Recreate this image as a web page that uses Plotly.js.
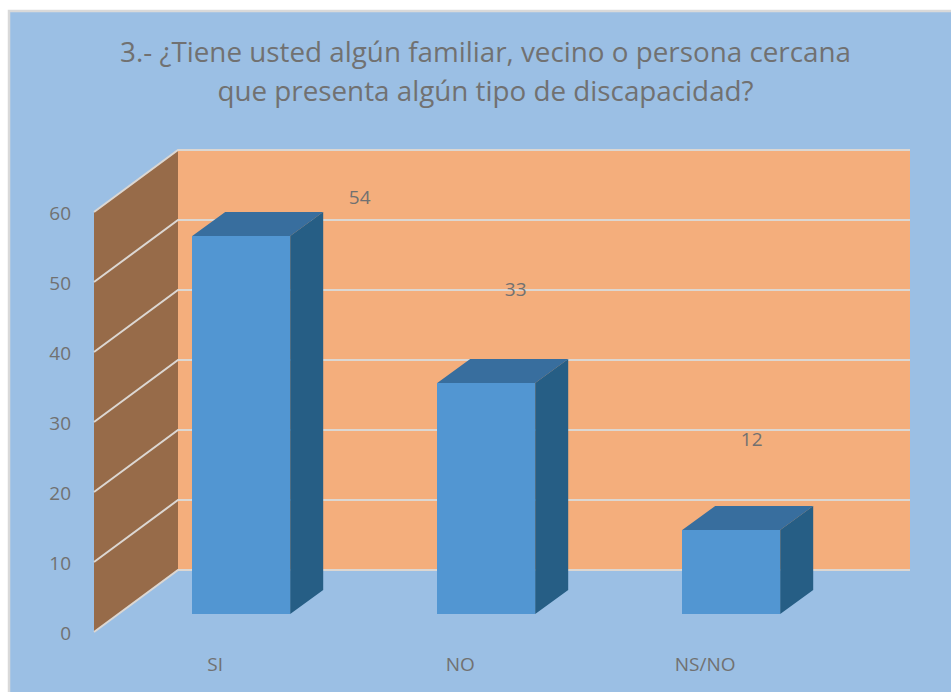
<!DOCTYPE html>
<html>
<head>
<meta charset="utf-8">
<script src="https://cdn.plot.ly/plotly-3.0.1.min.js"></script>
<style>html,body{margin:0;padding:0;background:#fff;overflow:hidden}</style>
</head>
<body>
<div id="chart" style="width:951px;height:692px"></div>
<script>
// ---- data ----
const categories = ['SI', 'NO', 'NS/NO'];
const values = [54, 33, 12];
const yTicks = [0, 10, 20, 30, 40, 50, 60];
const titleLines = ['3.- ¿Tiene usted algún familiar, vecino o persona cercana', 'que presenta algún tipo de discapacidad?'];

// ---- geometry of the fake 3-D box, in pixels ----
const W = 951, H = 692;
const pxPerCat = 245, pxPerUnit = 7;
const firstBarPx = 241.2, zeroPx = 632;
const wallLeftPx = 94, wallRightPx = 910;
const wallDxPx = 84, wallDyPx = 62;
const barWidthPx = 98, barDxPx = 33, barDyPx = 24, barLiftPx = 18;
const tickOffsetPx = -26;
const labelOffsetPx = [[118.5, 37], [29.5, 92], [20.5, 89]];

const cx = p => (p - firstBarPx) / pxPerCat;          // pixel -> category units
const dxC = p => p / pxPerCat;
const dyV = p => p / pxPerUnit;
const xRange = [cx(0), cx(W)];
const yRange = [(zeroPx - H) / pxPerUnit, zeroPx / pxPerUnit];

const colors = {
  panel: '#9BBFE4', border: '#D9D9D9', wall: '#F4AE7C', side: '#976B49', grid: '#DCD7D2',
  front: '#5296D2', top: '#386E9E', dark: '#265E85', text: '#717171'
};

// ---- walls and grid, layered beneath the traces ----
const xL = cx(wallLeftPx), xB = xL + dxC(wallDxPx), xR = cx(wallRightPx), dY = dyV(wallDyPx);
const yMax = yTicks[yTicks.length - 1];
const poly = pts => 'M' + pts.map(p => p[0] + ',' + p[1]).join('L') + 'Z';
const line = pts => 'M' + pts.map(p => p[0] + ',' + p[1]).join('L');
const shapes = [
  {type: 'rect', xref: 'paper', yref: 'paper', x0: 9 / W, x1: 1.05, y0: -0.05, y1: 1 - 11 / H, layer: 'below',
   fillcolor: colors.panel, line: {color: colors.border, width: 2.5}},
  {type: 'path', xref: 'x', yref: 'y', layer: 'below', path: poly([[xB, dY], [xB, yMax + dY], [xR, yMax + dY], [xR, dY]]),
   fillcolor: colors.wall, line: {width: 0}},
  {type: 'path', xref: 'x', yref: 'y', layer: 'below', path: poly([[xL, 0], [xL, yMax], [xB, yMax + dY], [xB, dY]]),
   fillcolor: colors.side, line: {width: 0}}
];
yTicks.forEach(v => shapes.push({
  type: 'path', xref: 'x', yref: 'y', layer: 'below',
  path: line([[xL, v], [xB, v + dY], [xR, v + dY]]),
  line: {color: colors.grid, width: 2}
}));

// ---- bar faces, computed from the values ----
const hw = dxC(barWidthPx) / 2, bdx = dxC(barDxPx), bdy = dyV(barDyPx), lift = dyV(barLiftPx);
const topX = [], topY = [], sideX = [], sideY = [];
values.forEach((v, i) => {
  const yT = v + lift, l = i - hw, r = i + hw;
  topX.push(l, r, r + bdx, l + bdx, l, null);
  topY.push(yT, yT, yT + bdy, yT + bdy, yT, null);
  sideX.push(r, r + bdx, r + bdx, r, r, null);
  sideY.push(yT, yT + bdy, lift + bdy, lift, yT, null);
});

const data = [
  {type: 'bar', x: values.map((_, i) => i), y: values, base: lift, width: dxC(barWidthPx),
   marker: {color: colors.front, line: {width: 0}}, hoverinfo: 'skip'},
  {type: 'scatter', mode: 'lines', x: topX, y: topY, fill: 'toself', fillcolor: colors.top,
   line: {width: 0}, hoverinfo: 'skip'},
  {type: 'scatter', mode: 'lines', x: sideX, y: sideY, fill: 'toself', fillcolor: colors.dark,
   line: {width: 0}, hoverinfo: 'skip'},
  {type: 'scatter', mode: 'text', x: values.map((_, i) => i + dxC(labelOffsetPx[i][0])),
   y: values.map((v, i) => v + lift + dyV(labelOffsetPx[i][1])),
   text: values.map(String), textposition: 'middle center', cliponaxis: false,
   textfont: {family: 'Open Sans', size: 19, color: colors.text}, hoverinfo: 'skip'}
];

const layout = {
  width: W, height: H,
  margin: {l: 0, r: 0, t: 0, b: 0},
  paper_bgcolor: '#FFFFFF',
  plot_bgcolor: 'rgba(0,0,0,0)',
  showlegend: false,
  font: {family: 'Open Sans', color: colors.text},
  title: {text: titleLines.map(t => '<span style="font-size:27.8px">' + t + '</span>').join('<br>'),
          x: 485.5 / W, xanchor: 'center', xref: 'paper', y: 1 - 62 / H, yanchor: 'top', yref: 'paper',
          font: {family: 'Open Sans', size: 30, color: colors.text}, automargin: false, pad: {t: 0, b: 0, l: 0, r: 0}},
  xaxis: {range: xRange, fixedrange: true, showgrid: false, zeroline: false, showline: false,
          anchor: 'free', position: (H - zeroPx) / H, tickmode: 'array',
          tickvals: categories.map((_, i) => i + dxC(tickOffsetPx)), ticktext: categories,
          ticks: '', ticklabelstandoff: 19, tickangle: 0,
          tickfont: {family: 'Open Sans', size: 19, color: colors.text}},
  yaxis: {range: yRange, fixedrange: true, showgrid: false, zeroline: false, showline: false,
          anchor: 'free', position: wallLeftPx / W, tickmode: 'array', tickvals: yTicks, ticktext: yTicks.map(String),
          ticks: '', ticklabelstandoff: 23, ticklabelshift: 1,
          tickfont: {family: 'Open Sans', size: 19, color: colors.text}},
  shapes: shapes,
  bargap: 0
};

Plotly.newPlot('chart', data, layout, {displayModeBar: false, staticPlot: true});
</script>
</body>
</html>
